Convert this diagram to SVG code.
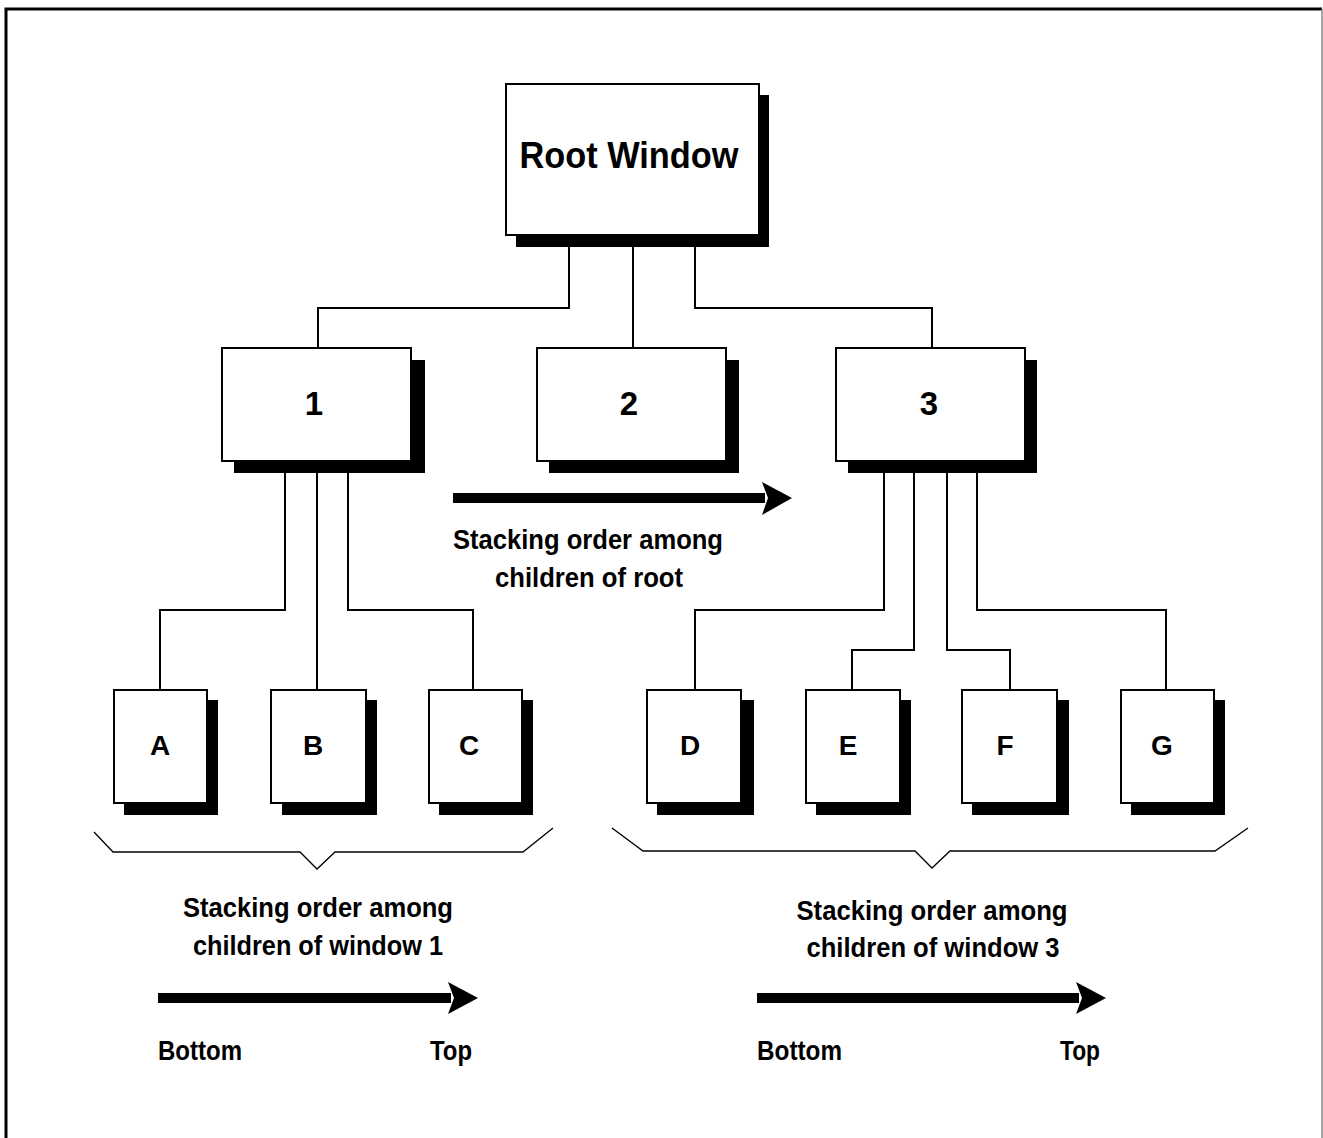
<svg xmlns="http://www.w3.org/2000/svg" width="1323" height="1138" viewBox="0 0 1323 1138">
<style>
.sh{fill:#000}
.bx{fill:#fff;stroke:#000;stroke-width:2}
.t{font-family:"Liberation Sans",Arial,sans-serif;font-weight:bold;fill:#000}
.lbl{font-size:28px}
.big{font-size:36px}
.num{font-size:33px}
.leaf{font-size:28px}
.c{fill:none;stroke:#000;stroke-width:2}
.br{fill:none;stroke:#000;stroke-width:1.3}
</style>
<rect x="0" y="0" width="1323" height="1138" fill="#fff"/>
<path d="M6,1138 V9 H1322" fill="none" stroke="#000" stroke-width="3"/>
<line x1="1322" y1="9" x2="1322" y2="1138" stroke="#888" stroke-width="1.5"/>

<g id="connectors">
<path class="c" d="M569,235 V308 H318 V348"/>
<path class="c" d="M633,235 V348"/>
<path class="c" d="M695,235 V308 H932 V348"/>
<path class="c" d="M285,461 V610 H160 V690"/>
<path class="c" d="M317,461 V690"/>
<path class="c" d="M348,461 V610 H473 V690"/>
<path class="c" d="M884,461 V610 H695 V690"/>
<path class="c" d="M914,461 V650 H852 V690"/>
<path class="c" d="M947,461 V650 H1010 V690"/>
<path class="c" d="M977,461 V610 H1166 V690"/>
</g>

<g id="root">
<rect class="sh" x="516" y="95" width="253" height="152"/>
<rect class="bx" x="506" y="84" width="253" height="151"/>
<text class="t big" x="629" y="168" text-anchor="middle" textLength="219" lengthAdjust="spacingAndGlyphs">Root Window</text>
</g>

<g id="n1">
<rect class="sh" x="234" y="360" width="191" height="113"/>
<rect class="bx" x="222" y="348" width="189" height="113"/>
<text class="t num" x="314" y="415" text-anchor="middle">1</text>
</g>
<g id="n2">
<rect class="sh" x="549" y="360" width="190" height="113"/>
<rect class="bx" x="537" y="348" width="189" height="113"/>
<text class="t num" x="629" y="415" text-anchor="middle">2</text>
</g>
<g id="n3">
<rect class="sh" x="848" y="360" width="189" height="113"/>
<rect class="bx" x="836" y="348" width="189" height="113"/>
<text class="t num" x="929" y="415" text-anchor="middle">3</text>
</g>

<g id="A">
<rect class="sh" x="124" y="700" width="94" height="115"/>
<rect class="bx" x="114" y="690" width="93" height="113"/>
<text class="t leaf" x="160" y="755" text-anchor="middle">A</text>
</g>
<g id="B">
<rect class="sh" x="282" y="700" width="95" height="115"/>
<rect class="bx" x="271" y="690" width="95" height="113"/>
<text class="t leaf" x="313" y="755" text-anchor="middle">B</text>
</g>
<g id="C">
<rect class="sh" x="439" y="700" width="94" height="115"/>
<rect class="bx" x="429" y="690" width="93" height="113"/>
<text class="t leaf" x="469" y="755" text-anchor="middle">C</text>
</g>
<g id="D">
<rect class="sh" x="657" y="700" width="97" height="115"/>
<rect class="bx" x="647" y="690" width="94" height="113"/>
<text class="t leaf" x="690" y="755" text-anchor="middle">D</text>
</g>
<g id="E">
<rect class="sh" x="816" y="700" width="95" height="115"/>
<rect class="bx" x="806" y="690" width="94" height="113"/>
<text class="t leaf" x="848" y="755" text-anchor="middle">E</text>
</g>
<g id="F">
<rect class="sh" x="972" y="700" width="97" height="115"/>
<rect class="bx" x="962" y="690" width="95" height="113"/>
<text class="t leaf" x="1005" y="755" text-anchor="middle">F</text>
</g>
<g id="G">
<rect class="sh" x="1131" y="700" width="94" height="115"/>
<rect class="bx" x="1121" y="690" width="93" height="113"/>
<text class="t leaf" x="1162" y="755" text-anchor="middle">G</text>
</g>

<g id="root-order">
<rect x="453" y="493" width="312" height="10"/>
<path d="M762,482 L792,498 L762,515 L768,498 Z"/>
<text class="t lbl" x="588" y="549" text-anchor="middle" textLength="270" lengthAdjust="spacingAndGlyphs">Stacking order among</text>
<text class="t lbl" x="589" y="587" text-anchor="middle" textLength="188" lengthAdjust="spacingAndGlyphs">children of root</text>
</g>

<g id="left-brace">
<path class="br" d="M94,832 L113,852 H300 L317,869 L335,852 H523 L553,828"/>
</g>
<g id="right-brace">
<path class="br" d="M612,828 L643,851 H915 L932,868 L950,851 H1215 L1248,828"/>
</g>

<g id="w1-order">
<text class="t lbl" x="318" y="917" text-anchor="middle" textLength="270" lengthAdjust="spacingAndGlyphs">Stacking order among</text>
<text class="t lbl" x="318" y="955" text-anchor="middle" textLength="250" lengthAdjust="spacingAndGlyphs">children of window 1</text>
<rect x="158" y="993" width="293" height="10"/>
<path d="M448,982 L478,998 L448,1014 L454,998 Z"/>
<text class="t lbl" x="158" y="1060" textLength="84" lengthAdjust="spacingAndGlyphs">Bottom</text>
<text class="t lbl" x="430" y="1060" textLength="42" lengthAdjust="spacingAndGlyphs">Top</text>
</g>

<g id="w3-order">
<text class="t lbl" x="932" y="920" text-anchor="middle" textLength="271" lengthAdjust="spacingAndGlyphs">Stacking order among</text>
<text class="t lbl" x="933" y="957" text-anchor="middle" textLength="253" lengthAdjust="spacingAndGlyphs">children of window 3</text>
<rect x="757" y="993" width="322" height="10"/>
<path d="M1076,982 L1106,998 L1076,1014 L1082,998 Z"/>
<text class="t lbl" x="757" y="1060" textLength="85" lengthAdjust="spacingAndGlyphs">Bottom</text>
<text class="t lbl" x="1060" y="1060" textLength="40" lengthAdjust="spacingAndGlyphs">Top</text>
</g>
</svg>
